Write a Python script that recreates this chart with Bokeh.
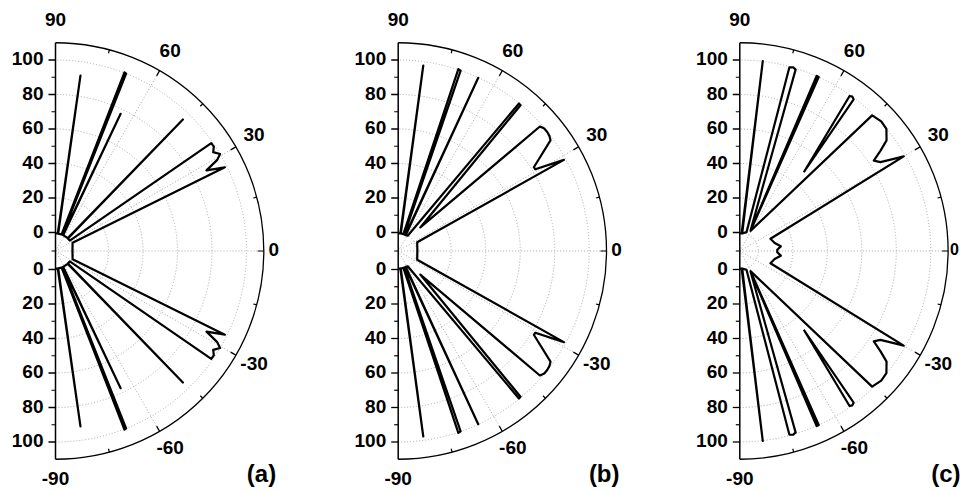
import numpy as np
from bokeh.plotting import figure
from bokeh.models import ColumnDataSource, Range1d
from bokeh.core.properties import value
from bokeh.embed import file_html
from bokeh.resources import INLINE

# ---- beam patterns: angle (deg) and level on the 0..110 radial scale ----
a_theta = [90, 82.6, 81.9, 81.2, 69.8, 68.9, 68.3, 67.4, 65.2, 64.6, 64.0,
           46.6, 45.9, 45.2, 36.0, 34.7, 33.4, 32.1, 30.5, 29.4, 28.1, 26.3,
           26.0, 0, -26.0,
           -26.3, -28.1, -29.4, -30.5, -32.1, -33.4, -34.7, -36.0, -45.2, -45.9,
           -46.6, -64.0, -64.6, -65.2, -67.4, -68.3, -68.9, -69.8, -81.2, -81.9,
           -82.6, -90]
a_r = [-0.5, -0.5, 92.0, -0.5, -0.5, 100.3, 100.0, -0.5, -0.5, 77.3, -0.5,
       -0.5, 95.4, -0.5, -0.5, 99.1, 99.2, 97.2, 100.0, 96.9, 88.5, 98.8,
       0.3, -0.9, 0.3,
       98.8, 88.5, 96.9, 100.0, 97.2, 99.2, 99.1, -0.5, -0.5, 95.4,
       -0.5, -0.5, 77.3, -0.5, -0.5, 100.0, 100.3, -0.5, -0.5, 92.0,
       -0.5, -0.5]

b_theta = [90, 83.0, 82.3, 81.6, 73.0, 71.7, 70.9, 69.6, 66.0, 65.2, 64.4,
           58.0, 50.7, 50.0, 46.8, 41.3, 40.0, 38.6, 37.2, 36.0, 31.7, 30.8,
           28.8, 24.8, 0,
           -24.8, -28.8, -30.8, -31.7, -36.0, -37.2, -38.6, -40.0, -41.3, -46.8,
           -50.0, -50.7, -58.0, -64.4, -65.2, -66.0, -69.6, -70.9, -71.7, -73.0,
           -81.6, -82.3, -83.0, -90]
b_r = [-0.5, -0.5, 97.8, -0.5, -0.5, 100.3, 99.9, -0.5, -0.5, 99.9, -0.5,
       -0.3, 99.8, 99.6, 8.0, 98.6, 99.8, 99.8, 99.4, 98.4, 81.7, 81.8,
       98.9, 1.4, 0.4,
       1.4, 98.9, 81.8, 81.7, 98.4, 99.4, 99.8, 99.8, 98.6, 8.0,
       99.6, 99.8, -0.3, -0.5, 99.9, -0.5, -0.5, 99.9, 100.3, -0.5,
       -0.5, 97.8, -0.5, -0.5]

c_theta = [90, 84.0, 83.1, 82.2, 70.4, 74.9, 73.8, 72.9, 62.4, 66.3, 65.6,
           62.0, 45.7, 42.5, 39.8, 37.0, 35.5, 34.0, 32.3, 30.9, 30.0, 21.7,
           13.0, 6.5, 2.0, -2.0, -6.5, -13.0,
           -21.7, -30.0, -30.9, -32.3, -34.0, -35.5, -37.0, -39.8, -42.5, -45.7,
           -62.0, -65.6, -66.3, -62.4, -72.9, -73.8, -74.9, -70.4, -82.2, -83.1,
           -84.0, -90]
c_r = [-0.5, -0.5, 100.1, -0.5, 0.9, 99.5, 100.2, 99.3, 2.7, 100.1, 100.0,
       2.5, 99.1, 100.5, 99.9, 95.8, 89.5, 83.0, 85.7, 93.3, 99.0, 8.4,
       10.0, 13.2, 11.0, 11.0, 13.2, 10.0,
       8.4, 99.0, 93.3, 85.7, 83.0, 89.5, 95.8, 99.9, 100.5, 99.1,
       2.5, 100.0, 100.1, 2.7, 99.3, 100.2, 99.5, 0.9, -0.5, 100.1,
       -0.5, -0.5]

# detached side lobes of pattern (c)
c_lobe_up_theta = [50.9, 54.7, 53.9, 53.1, 50.9]
c_lobe_up_r = [48.1, 99.4, 100.0, 99.2, 48.1]
c_lobe_dn_theta = [-50.9, -53.1, -53.9, -54.7, -50.9]
c_lobe_dn_r = [48.1, 99.2, 100.0, 99.4, 48.1]

radial_ticks = [0, 20, 40, 60, 80, 100]
radial_minor = [10, 30, 50, 70, 90]
angle_ticks = [90, 60, 30, 0, -30, -60, -90]
angle_minor = [75, 45, 15, -15, -45, -75]
panel_tags = ["(a)", "(b)", "(c)"]

# ---- layout of the three half-polar frames (screen units, y up) ----
W, H = 960, 491
CENTERS = [55.0, 397.7, 739.3]
CY = 240.5
R_IN = 18.5      # radius where the scale starts (level 0)
K = 1.725        # screen units per level unit
R_MAX = 110
FONT = value("Liberation Sans")
TICK_FS = "19px"


def rad(r):
    return R_IN + K * np.asarray(r, dtype=float)


def to_xy(cx, theta, r):
    t = np.deg2rad(np.asarray(theta, dtype=float))
    d = rad(r)
    return cx + d * np.cos(t), CY + d * np.sin(t)


p = figure(width=W, height=H, x_range=Range1d(0, W), y_range=Range1d(0, H),
           x_axis_type=None, y_axis_type=None, toolbar_location=None,
           output_backend="svg", min_border=0, outline_line_color=None,
           background_fill_color="white", border_fill_color="white")
p.grid.visible = False

grid_col = "#a8a8a8"
outer = float(rad(R_MAX))

patterns = [
    [(a_theta, a_r)],
    [(b_theta, b_r)],
    [(c_theta, c_r), (c_lobe_up_theta, c_lobe_up_r), (c_lobe_dn_theta, c_lobe_dn_r)],
]

for cx, curves, tag in zip(CENTERS, patterns, panel_tags):
    # dotted level circles
    p.arc(x=[cx] * len(radial_ticks), y=[CY] * len(radial_ticks),
          radius=[float(rad(v)) for v in radial_ticks],
          start_angle=-np.pi / 2, end_angle=np.pi / 2,
          line_color=grid_col, line_width=1, line_dash="1 2")
    # dotted angle spokes
    spokes = [a for a in angle_ticks if abs(a) != 90]
    t = np.deg2rad(spokes)
    p.segment(x0=[cx] * len(spokes), y0=[CY] * len(spokes),
              x1=list(cx + outer * np.cos(t)), y1=list(CY + outer * np.sin(t)),
              line_color=grid_col, line_width=1, line_dash="1 2")
    # outer arc
    p.arc(x=[cx], y=[CY], radius=[outer], start_angle=-np.pi / 2,
          end_angle=np.pi / 2, line_color="black", line_width=1.3)
    # angular ticks (inward)
    for angs, ln in ((angle_ticks[1:-1], 6.0), (angle_minor, 3.5)):
        t = np.deg2rad(angs)
        p.segment(x0=list(cx + outer * np.cos(t)), y0=list(CY + outer * np.sin(t)),
                  x1=list(cx + (outer - ln) * np.cos(t)),
                  y1=list(CY + (outer - ln) * np.sin(t)),
                  line_color="black", line_width=1.2)
    # radial axis along the 90 / -90 line
    p.segment(x0=[cx], y0=[CY - outer], x1=[cx], y1=[CY + outer],
              line_color="black", line_width=1.5)
    ys_major = [CY + float(rad(v)) for v in radial_ticks] + \
               [CY - float(rad(v)) for v in radial_ticks]
    p.segment(x0=[cx - 7] * len(ys_major), y0=ys_major, x1=[cx] * len(ys_major),
              y1=ys_major, line_color="black", line_width=1.3)
    ys_minor = [CY + float(rad(v)) for v in radial_minor] + \
               [CY - float(rad(v)) for v in radial_minor] + [CY]
    p.segment(x0=[cx - 4] * len(ys_minor), y0=ys_minor, x1=[cx] * len(ys_minor),
              y1=ys_minor, line_color="black", line_width=1.2)

    # radial tick labels
    lab_y = ys_major
    lab_t = [str(v) for v in radial_ticks] * 2
    p.text(x=[cx - 12] * len(lab_y), y=[y + 1.5 for y in lab_y], text=lab_t,
           text_font=FONT, text_font_style="bold", text_font_size=TICK_FS,
           text_align="right", text_baseline="middle", text_color="black")

    # angular tick labels; the 0 label of the last frame is squeezed in at the page edge
    for a in angle_ticks:
        d = outer + (10.0 if a == 0 else 21.0)
        x = cx + d * np.cos(np.deg2rad(a))
        y = CY + d * np.sin(np.deg2rad(a)) + 2.0
        fs = TICK_FS
        if x > W - 9:
            x, fs = W - 6.0, "16px"
        p.text(x=[x], y=[y], text=[str(a)],
               text_font=FONT, text_font_style="bold", text_font_size=fs,
               text_align="center", text_baseline="middle", text_color="black")

    # patterns
    for th, rr in curves:
        x, y = to_xy(cx, th, rr)
        p.line(x=list(x), y=list(y), line_color="black", line_width=2.2,
               line_join="round")

    # panel tag
    p.text(x=[cx + 206], y=[18], text=[tag], text_font=FONT,
           text_font_style="bold", text_font_size="24px", text_align="center",
           text_baseline="middle", text_color="black")

open("out.html", "w").write(file_html(p, INLINE))
